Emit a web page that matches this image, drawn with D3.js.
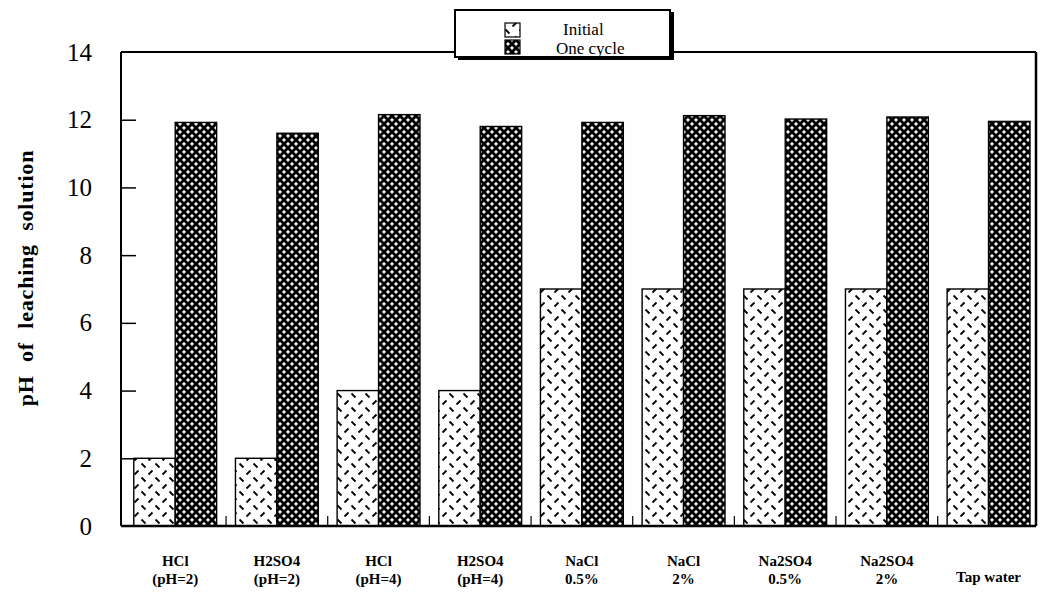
<!DOCTYPE html>
<html><head><meta charset="utf-8">
<script src="https://cdn.jsdelivr.net/npm/d3@7"></script>
<style>body{margin:0;background:#fff}svg{display:block}
text{font-family:"Liberation Serif","DejaVu Serif",serif}</style>
</head><body>
<svg id="c" width="1042" height="594"></svg>
<script>
const categories = [["HCl","(pH=2)"],["H2SO4","(pH=2)"],["HCl","(pH=4)"],["H2SO4","(pH=4)"],["NaCl","0.5%"],["NaCl","2%"],["Na2SO4","0.5%"],["Na2SO4","2%"],["Tap water"]];
const initialValues = [2,2,4,4,7,7,7,7,7];
const oneCycleValues = [11.92,11.6,12.15,11.8,11.92,12.12,12.02,12.08,11.95];
const seriesNames = ["Initial","One cycle"];
const yTicks = [0,2,4,6,8,10,12,14];
const yTitle = "pH of leaching solution";

const svg = d3.select("#c");
const L=121, R=1036, T=52, B=526;

const defs = svg.append("defs");
const p1 = defs.append("pattern").attr("id","pInit").attr("patternUnits","userSpaceOnUse")
  .attr("width",14).attr("height",14);
p1.append("rect").attr("width",14).attr("height",14).attr("fill","#fff");
p1.append("line").attr("x1",1.5).attr("y1",1.5).attr("x2",5.5).attr("y2",5.5).attr("stroke","#000").attr("stroke-width",1.8);
p1.append("line").attr("x1",8.5).attr("y1",12.5).attr("x2",12.5).attr("y2",8.5).attr("stroke","#000").attr("stroke-width",1.8);
const p2 = defs.append("pattern").attr("id","pCyc").attr("patternUnits","userSpaceOnUse")
  .attr("width",8).attr("height",8);
p2.append("rect").attr("width",8).attr("height",8).attr("fill","#000");
const star = (cx,cy,r)=>`M${cx},${cy-r} Q${cx+0.4},${cy-0.4} ${cx+r},${cy} Q${cx+0.4},${cy+0.4} ${cx},${cy+r} Q${cx-0.4},${cy+0.4} ${cx-r},${cy} Q${cx-0.4},${cy-0.4} ${cx},${cy-r}Z`;
[[0,0],[8,0],[0,8],[8,8],[4,4]].forEach(([x,y])=>p2.append("path").attr("d",star(x,y,2.4)).attr("fill","#fff"));

const x0 = d3.scaleBand().domain(d3.range(categories.length)).range([L,R]).paddingInner(0.185).paddingOuter(0.0925).align(0.68);
const x1 = d3.scaleBand().domain([0,1]).range([0,x0.bandwidth()]);
const y = d3.scaleLinear().domain([0,14]).range([B,T]);

const g = svg.append("g");
categories.forEach((c,i)=>{
  [initialValues[i], oneCycleValues[i]].forEach((v,s)=>{
    g.append("rect").attr("x",x0(i)+x1(s)).attr("y",y(v)).attr("width",x1.bandwidth()).attr("height",y(0)-y(v))
      .attr("fill", s===0?"url(#pInit)":"url(#pCyc)").attr("stroke","#000").attr("stroke-width",1.4);
  });
});

const fr = svg.append("g").attr("stroke","#000").attr("fill","none");
fr.append("line").attr("x1",L).attr("x2",L).attr("y1",T).attr("y2",B).attr("stroke-width",2);
fr.append("line").attr("x1",L).attr("x2",R).attr("y1",B).attr("y2",B).attr("stroke-width",2.5);
fr.append("line").attr("x1",R).attr("x2",R).attr("y1",T).attr("y2",B).attr("stroke-width",2.5);
fr.append("line").attr("x1",L).attr("x2",R).attr("y1",T).attr("y2",T).attr("stroke-width",2);

const ya = svg.append("g").attr("transform",`translate(${L},0)`)
  .call(d3.axisRight(y).tickValues(yTicks).tickSize(15).tickFormat(""));
ya.select(".domain").remove();
ya.selectAll(".tick line").attr("stroke","#000").attr("stroke-width",1.5);
ya.selectAll(".tick").filter(d=>d===0||d===14).remove();
svg.append("g").selectAll("text").data(yTicks).join("text")
  .attr("x",92).attr("y",d=>y(d)).attr("dy","0.34em").attr("text-anchor","end")
  .attr("font-size",25).text(d=>d);

const gapTicks = d3.range(1,categories.length).map(i=>(x0(i-1)+x0.bandwidth()+x0(i))/2);
svg.append("g").selectAll("line").data(gapTicks).join("line")
  .attr("x1",d=>d).attr("x2",d=>d).attr("y1",B).attr("y2",B-10).attr("stroke","#000").attr("stroke-width",1.2);

categories.forEach((c,i)=>{
  const cx = x0(i)+x0.bandwidth()/2;
  const t = svg.append("text").attr("text-anchor","middle")
    .attr("font-weight","bold").attr("font-size",15);
  if(c.length===1){
    t.append("tspan").attr("x",cx).attr("y",582).text(c[0]);
  } else {
    t.append("tspan").attr("x",cx).attr("y",566).text(c[0]);
    t.append("tspan").attr("x",cx).attr("y",584).text(c[1]);
  }
});

svg.append("text").attr("transform","translate(33,278) rotate(-90)").attr("text-anchor","middle")
  .attr("font-weight","bold").attr("font-size",22).attr("word-spacing",7)
  .attr("letter-spacing",0.8).text(yTitle);

const lg = svg.append("g");
lg.append("rect").attr("x",458).attr("y",12).attr("width",216).attr("height",48).attr("fill","#000");
lg.append("rect").attr("x",455).attr("y",10).attr("width",215).attr("height",47).attr("fill","#fff").attr("stroke","#000").attr("stroke-width",2);
seriesNames.forEach((n,i)=>{
  lg.append("rect").attr("x",505).attr("y",23+i*17).attr("width",15).attr("height",14)
    .attr("fill", i===0?"url(#pInit)":"url(#pCyc)").attr("stroke","#000").attr("stroke-width",1.2);
  lg.append("text").attr("x",i===0?563:556).attr("y",35+i*19).attr("font-size",17).text(n);
});
</script>
</body></html>
